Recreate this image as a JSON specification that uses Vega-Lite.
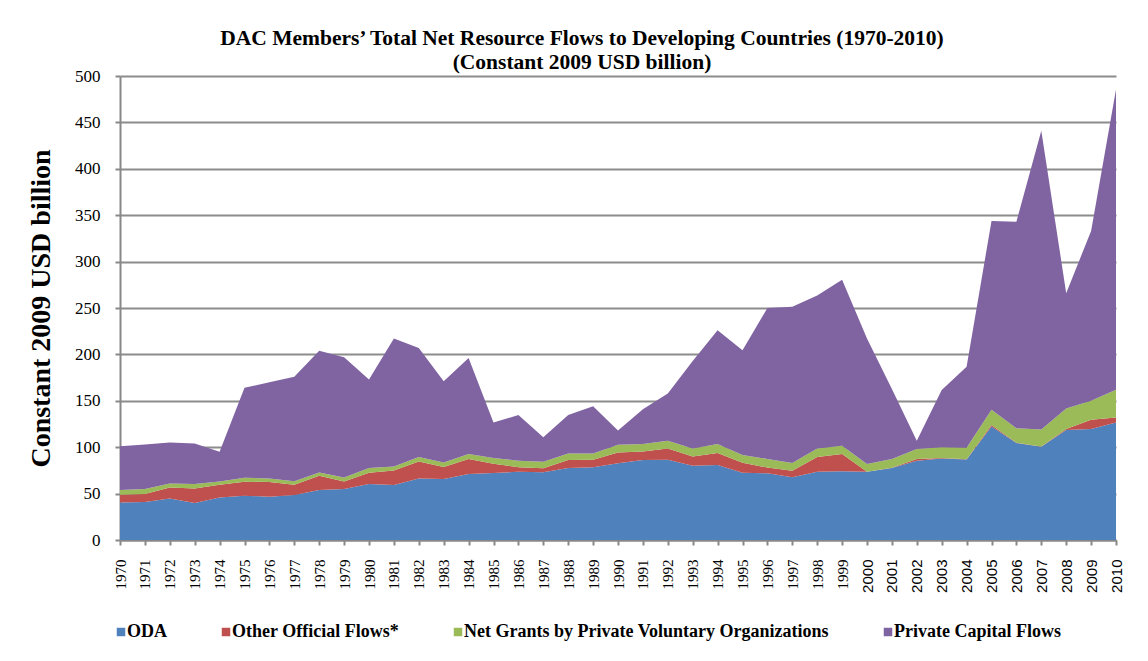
{
  "$schema": "https://vega.github.io/schema/vega-lite/v6.json",
  "width": 996,
  "height": 464,
  "autosize": {"type": "none"},
  "padding": {"left": 120, "top": 76, "right": 32, "bottom": 121},
  "background": "white",
  "title": {
    "text": ["DAC Members’ Total Net Resource Flows to Developing Countries (1970-2010)", "(Constant 2009 USD billion)"],
    "font": "Liberation Serif",
    "fontSize": 21.5,
    "fontWeight": "bold",
    "color": "black",
    "lineHeight": 24,
    "anchor": "middle",
    "dx": -36,
    "offset": -6
  },
  "data": {
    "values": [
      {"year": "1970", "ODA": 40.5, "OOF": 8.3, "NGO": 5.1, "PCF": 47.1},
      {"year": "1971", "ODA": 41.0, "OOF": 8.5, "NGO": 5.5, "PCF": 48.0},
      {"year": "1972", "ODA": 44.8, "OOF": 11.9, "NGO": 4.3, "PCF": 44.0},
      {"year": "1973", "ODA": 39.9, "OOF": 15.7, "NGO": 4.7, "PCF": 43.7},
      {"year": "1974", "ODA": 45.9, "OOF": 13.7, "NGO": 3.5, "PCF": 31.9},
      {"year": "1975", "ODA": 47.7, "OOF": 15.1, "NGO": 4.3, "PCF": 96.9},
      {"year": "1976", "ODA": 46.6, "OOF": 15.8, "NGO": 4.0, "PCF": 103.6},
      {"year": "1977", "ODA": 48.4, "OOF": 11.2, "NGO": 3.6, "PCF": 112.8},
      {"year": "1978", "ODA": 53.9, "OOF": 15.4, "NGO": 3.5, "PCF": 131.2},
      {"year": "1979", "ODA": 55.0, "OOF": 8.0, "NGO": 4.4, "PCF": 129.6},
      {"year": "1980", "ODA": 60.3, "OOF": 12.2, "NGO": 5.0, "PCF": 95.5},
      {"year": "1981", "ODA": 59.2, "OOF": 15.8, "NGO": 4.3, "PCF": 137.7},
      {"year": "1982", "ODA": 66.4, "OOF": 18.3, "NGO": 4.7, "PCF": 117.6},
      {"year": "1983", "ODA": 65.6, "OOF": 13.0, "NGO": 4.9, "PCF": 87.5},
      {"year": "1984", "ODA": 71.0, "OOF": 16.3, "NGO": 5.4, "PCF": 103.3},
      {"year": "1985", "ODA": 72.2, "OOF": 10.0, "NGO": 6.2, "PCF": 38.1},
      {"year": "1986", "ODA": 73.6, "OOF": 4.7, "NGO": 7.2, "PCF": 49.2},
      {"year": "1987", "ODA": 72.9, "OOF": 4.3, "NGO": 7.2, "PCF": 26.2},
      {"year": "1988", "ODA": 77.6, "OOF": 8.6, "NGO": 7.1, "PCF": 41.4},
      {"year": "1989", "ODA": 78.3, "OOF": 8.3, "NGO": 6.7, "PCF": 50.7},
      {"year": "1990", "ODA": 82.6, "OOF": 11.8, "NGO": 8.3, "PCF": 15.3},
      {"year": "1991", "ODA": 86.2, "OOF": 9.3, "NGO": 7.9, "PCF": 37.6},
      {"year": "1992", "ODA": 86.6, "OOF": 12.1, "NGO": 8.3, "PCF": 51.0},
      {"year": "1993", "ODA": 80.0, "OOF": 10.1, "NGO": 8.6, "PCF": 94.3},
      {"year": "1994", "ODA": 80.8, "OOF": 12.9, "NGO": 9.7, "PCF": 122.6},
      {"year": "1995", "ODA": 72.5, "OOF": 10.8, "NGO": 8.3, "PCF": 112.9},
      {"year": "1996", "ODA": 71.8, "OOF": 6.2, "NGO": 9.3, "PCF": 162.7},
      {"year": "1997", "ODA": 67.5, "OOF": 7.2, "NGO": 8.3, "PCF": 168.4},
      {"year": "1998", "ODA": 73.6, "OOF": 15.9, "NGO": 9.2, "PCF": 164.8},
      {"year": "1999", "ODA": 74.0, "OOF": 18.7, "NGO": 8.9, "PCF": 178.9},
      {"year": "2000", "ODA": 73.5, "OOF": 0.0, "NGO": 8.5, "PCF": 135.0},
      {"year": "2001", "ODA": 77.6, "OOF": 0.3, "NGO": 9.3, "PCF": 75.5},
      {"year": "2002", "ODA": 85.4, "OOF": 2.0, "NGO": 10.6, "PCF": 9.0},
      {"year": "2003", "ODA": 87.9, "OOF": 0.5, "NGO": 11.6, "PCF": 61.6},
      {"year": "2004", "ODA": 86.8, "OOF": 0.2, "NGO": 12.3, "PCF": 87.4},
      {"year": "2005", "ODA": 122.4, "OOF": 1.6, "NGO": 16.4, "PCF": 203.3},
      {"year": "2006", "ODA": 104.5, "OOF": 0.2, "NGO": 15.6, "PCF": 222.7},
      {"year": "2007", "ODA": 100.5, "OOF": 0.2, "NGO": 18.5, "PCF": 321.8},
      {"year": "2008", "ODA": 118.5, "OOF": 1.0, "NGO": 22.3, "PCF": 124.2},
      {"year": "2009", "ODA": 119.5, "OOF": 10.1, "NGO": 20.4, "PCF": 183.0},
      {"year": "2010", "ODA": 126.7, "OOF": 5.4, "NGO": 29.9, "PCF": 323.5}
    ]
  },
  "transform": [
    {"fold": ["ODA", "OOF", "NGO", "PCF"], "as": ["key", "value"]},
    {"lookup": "key", "from": {"data": {"values": [
      {"key": "ODA", "flow": "ODA", "rank": 1},
      {"key": "OOF", "flow": "Other Official Flows*", "rank": 2},
      {"key": "NGO", "flow": "Net Grants by Private Voluntary Organizations", "rank": 3},
      {"key": "PCF", "flow": "Private Capital Flows", "rank": 4}
    ]}, "key": "key", "fields": ["flow", "rank"]}}
  ],
  "mark": {"type": "area", "opacity": 1},
  "encoding": {
    "x": {
      "field": "year",
      "type": "ordinal",
      "scale": {"type": "point", "padding": 0},
      "axis": {
        "title": null,
        "labelAngle": -90,
        "labelFont": {"condition": {"test": "toNumber(datum.value) >= 2000", "value": "Liberation Sans"}, "value": "Liberation Serif"},
        "labelFontSize": 15,
        "labelColor": "black",
        "labelPadding": 14,
        "tickSize": 5,
        "tickColor": "#888888",
        "tickWidth": 2,
        "domainColor": "#888888",
        "domainWidth": 2,
        "grid": false
      }
    },
    "y": {
      "field": "value",
      "type": "quantitative",
      "stack": "zero",
      "scale": {"domain": [0, 500], "nice": false},
      "axis": {
        "title": "Constant 2009 USD billion",
        "titleFont": "Liberation Serif",
        "titleFontSize": 28,
        "titleFontWeight": "bold",
        "titleColor": "black",
        "titlePadding": 19,
        "values": [0, 50, 100, 150, 200, 250, 300, 350, 400, 450, 500],
        "labelFont": "Liberation Serif",
        "labelFontSize": 17,
        "labelColor": "black",
        "labelPadding": 15,
        "tickSize": 5,
        "tickColor": "#888888",
        "tickWidth": 2,
        "domainColor": "#888888",
        "domainWidth": 2,
        "grid": true,
        "gridColor": "#8c8c8c",
        "gridWidth": 2
      }
    },
    "color": {
      "field": "flow",
      "type": "nominal",
      "scale": {
        "domain": ["ODA", "Other Official Flows*", "Net Grants by Private Voluntary Organizations", "Private Capital Flows"],
        "range": ["#4F81BD", "#C0504D", "#9BBB59", "#8064A2"]
      },
      "legend": {
        "title": null,
        "orient": "none",
        "direction": "horizontal",
        "legendX": -8,
        "legendY": 547,
        "symbolType": "square",
        "symbolSize": 72,
        "symbolOpacity": 1,
        "symbolStrokeWidth": 0,
        "labelFont": "Liberation Serif",
        "labelFontSize": 18,
        "labelFontWeight": "bold",
        "labelColor": "black",
        "labelOffset": -3,
        "columnPadding": 50,
        "labelLimit": 500
      }
    },
    "order": {"field": "rank", "type": "quantitative", "sort": "ascending"}
  },
  "config": {
    "view": {"stroke": null},
    "axis": {"labelFlush": false}
  }
}
